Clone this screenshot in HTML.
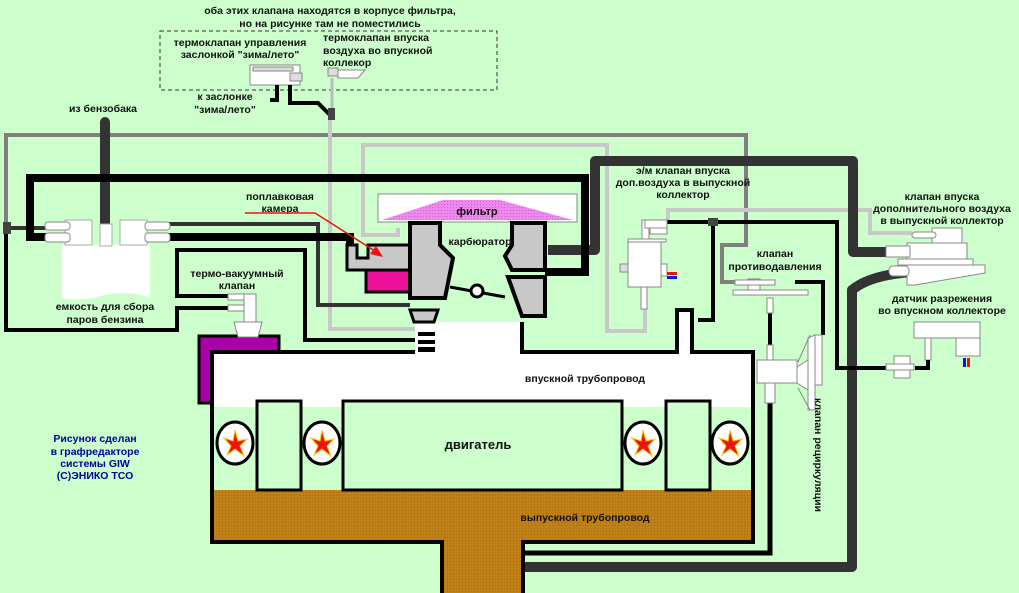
<!DOCTYPE html>
<html><head><meta charset="utf-8"><style>
html,body{margin:0;padding:0;background:#ccffcc;}
svg{display:block}
text{font-family:"Liberation Sans",sans-serif;font-weight:bold;font-size:10.5px;fill:#111;text-anchor:middle}
</style></head><body>
<svg width="1019" height="593" viewBox="0 0 1019 593" xmlns="http://www.w3.org/2000/svg">
<defs>
<pattern id="br" width="3" height="3" patternUnits="userSpaceOnUse"><rect width="3" height="3" fill="#c08018"/><rect width="1" height="1" fill="#a86a10"/></pattern>
<pattern id="pk" width="3" height="3" patternUnits="userSpaceOnUse"><rect width="3" height="3" fill="#ee88ee"/><rect width="1" height="1" fill="#cc66cc"/></pattern>
</defs>
<rect width="1019" height="593" fill="#ccffcc"/>

<!-- top note -->
<text x="330" y="14">оба этих клапана находятся в корпусе фильтра,</text>
<text x="330" y="27">но на рисунке там не поместились</text>
<rect x="160" y="31" width="337" height="59" fill="none" stroke="#333" stroke-dasharray="4,3"/>
<text x="240" y="46">термоклапан управления</text>
<text x="240" y="58">заслонкой "зима/лето"</text>
<text x="323" y="41" style="text-anchor:start">термоклапан впуска</text>
<text x="323" y="54" style="text-anchor:start">воздуха во впускной</text>
<text x="323" y="66" style="text-anchor:start">коллекор</text>
<rect x="250" y="65" width="50" height="20" fill="#fff" stroke="#888"/>
<rect x="253" y="67" width="40" height="4" fill="#ddd" stroke="#888"/>
<rect x="290" y="73" width="12" height="8" fill="#ddd" stroke="#888"/>
<rect x="328" y="68" width="10" height="8" fill="#ddd" stroke="#888"/>
<polygon points="338,70 365,70 358,78 338,78" fill="#fff" stroke="#888"/>
<path d="M277 85 V100 H270" stroke="#000" stroke-width="4" fill="none"/>
<path d="M290 85 V103 H318 L330 115 V125" stroke="#000" stroke-width="4" fill="none"/>
<line x1="332" y1="78" x2="332" y2="110" stroke="#bbb" stroke-width="3"/>
<rect x="328" y="108" width="7" height="12" fill="#444"/>
<text x="225" y="100">к заслонке</text>
<text x="225" y="113">"зима/лето"</text>
<text x="103" y="112">из бензобака</text>

<!-- medium gray line -->
<path d="M6 330 V135 H746 V245 H722 V282 H735" stroke="#808080" stroke-width="4" fill="none"/>
<!-- light gray lines -->
<path d="M330 120 V329 H418" stroke="#c8c8c8" stroke-width="4" fill="none"/>
<path d="M398 228 V235 H363 V145 H607 V331 H645 V300" stroke="#c8c8c8" stroke-width="4" fill="none"/>
<path d="M668 222 H668 V210 H870 V233 H912" stroke="#c8c8c8" stroke-width="4" fill="none"/>

<!-- dark gray thick lines -->
<path d="M105 122 V226" stroke="#333" stroke-width="10" stroke-linecap="round" fill="none"/>
<path d="M548 250 H595 V161 H853 V252 H912" stroke="#333" stroke-width="10" fill="none" stroke-linejoin="round"/>
<path d="M912 272 Q870 275 852 290 V567 H523" stroke="#333" stroke-width="10" fill="none" stroke-linejoin="round"/>
<path d="M8 228 H45" stroke="#333" stroke-width="4"/>
<path d="M168 224 H318 V305 H410" stroke="#333" stroke-width="4" fill="none"/>

<!-- black thick lines -->
<path d="M48 237 H30 V178 H585 V272 H545" stroke="#000" stroke-width="8" fill="none"/>
<path d="M165 237 H350 V245" stroke="#000" stroke-width="8" fill="none"/>
<!-- black thin lines -->
<path d="M6 228 V330 H177 V308 H232" stroke="#000" stroke-width="4" fill="none"/>
<path d="M232 296 H177 V250 H305 V340 H415" stroke="#000" stroke-width="4" fill="none"/>
<path d="M665 222 H837 V368 H890" stroke="#000" stroke-width="4" fill="none"/>
<path d="M713 222 V320 H698" stroke="#000" stroke-width="4" fill="none"/>
<path d="M795 282 H823 V335" stroke="#000" stroke-width="4" fill="none"/>
<path d="M770 300 V350" stroke="#000" stroke-width="4"/>
<path d="M523 553 H770 V400" stroke="#000" stroke-width="5" fill="none"/>
<rect x="3" y="222" width="8" height="12" fill="#444"/>
<rect x="708" y="218" width="10" height="8" fill="#444"/>

<!-- tank -->
<path d="M62 245 H150 V298 Q130 290 105 295 Q80 302 62 298 Z" fill="#fff"/>
<rect x="65" y="220" width="27" height="25" fill="#fff" stroke="#aaa"/>
<rect x="120" y="220" width="27" height="25" fill="#fff" stroke="#aaa"/>
<rect x="100" y="224" width="12" height="22" fill="#fff" stroke="#aaa"/>
<rect x="45" y="222" width="25" height="8" rx="3" fill="#fff" stroke="#888"/>
<rect x="45" y="233" width="25" height="9" rx="3" fill="#fff" stroke="#888"/>
<rect x="145" y="222" width="25" height="8" rx="3" fill="#fff" stroke="#888"/>
<rect x="145" y="233" width="25" height="9" rx="3" fill="#fff" stroke="#888"/>
<text x="105" y="310">емкость для сбора</text>
<text x="105" y="323">паров бензина</text>

<!-- thermo-vacuum valve -->
<text x="237" y="277">термо-вакуумный</text>
<text x="237" y="289">клапан</text>
<rect x="228" y="294" width="28" height="6" fill="#fff" stroke="#888"/>
<rect x="228" y="305" width="22" height="6" fill="#fff" stroke="#888"/>
<rect x="244" y="294" width="12" height="30" fill="#fff" stroke="#888"/>

<!-- engine block -->
<rect x="199" y="336" width="80" height="67" fill="#aa00aa" stroke="#000" stroke-width="3"/>
<polygon points="234,322 262,322 258,337 238,337" fill="#fff" stroke="#888"/>
<polygon points="212,352 415,352 415,322 522,322 522,352 677,352 677,310 692,310 692,352 753,352 753,542 523,542 523,593 442,593 442,542 212,542" fill="#fff"/>
<rect x="214" y="407" width="537" height="83" fill="#ccffcc"/>
<polygon points="214,490 751,490 751,540 521,540 521,593 444,593 444,540 214,540" fill="url(#br)"/>
<polyline points="415,352 212,352 212,542 442,542 442,593" fill="none" stroke="#000" stroke-width="4"/>
<polyline points="523,593 523,542 753,542 753,352 692,352 692,310 677,310 677,352 522,352 522,322" fill="none" stroke="#000" stroke-width="4"/>
<rect x="257" y="401" width="44" height="89" fill="#ccffcc" stroke="#000" stroke-width="3"/>
<rect x="343" y="401" width="279" height="89" fill="#ccffcc" stroke="#000" stroke-width="3"/>
<rect x="666" y="401" width="44" height="89" fill="#ccffcc" stroke="#000" stroke-width="3"/>
<g stroke="#000" stroke-width="3" fill="#fff">
<ellipse cx="235" cy="443" rx="18" ry="21"/><ellipse cx="322" cy="443" rx="18" ry="21"/>
<ellipse cx="643" cy="443" rx="18" ry="21"/><ellipse cx="730" cy="443" rx="18" ry="21"/>
</g>
<g fill="#ee1111" stroke="#ffcc00" stroke-width="1">
<polygon points="235,430 238,441 247,439 240,446 244,456 235,449 227,455 231,446 224,438 233,441"/>
<polygon points="322,430 325,441 334,439 327,446 331,456 322,449 314,455 318,446 311,438 320,441"/>
<polygon points="643,430 646,441 655,439 648,446 652,456 643,449 635,455 639,446 632,438 641,441"/>
<polygon points="730,430 733,441 742,439 735,446 739,456 730,449 722,455 726,446 719,438 728,441"/>
</g>
<text x="478" y="449" style="font-size:13px">двигатель</text>
<text x="585" y="382">впускной трубопровод</text>
<text x="585" y="521">выпускной трубопровод</text>

<!-- carburetor -->
<rect x="378" y="194" width="199" height="28" fill="#fff" stroke="#888"/>
<polygon points="382,220 443,200 500,200 573,220" fill="url(#pk)"/>
<text x="477" y="215" style="font-size:11px">фильтр</text>
<polygon points="347,245 357,245 357,258 368,258 368,245 410,245 410,270 347,270" fill="#c8c8c8" stroke="#000" stroke-width="3"/>
<rect x="366" y="270" width="44" height="22" fill="#ee1199" stroke="#000" stroke-width="3"/>
<polygon points="410,223 440,223 440,245 453,258 445,298 410,298" fill="#c8c8c8" stroke="#000" stroke-width="4"/>
<polygon points="512,223 545,223 545,270 512,270 505,256 512,245" fill="#c8c8c8" stroke="#000" stroke-width="4"/>
<polygon points="508,277 545,277 545,316 522,316" fill="#c8c8c8" stroke="#000" stroke-width="4"/>
<polygon points="410,310 438,310 434,322 414,322" fill="#c8c8c8" stroke="#000" stroke-width="3"/>
<rect x="418" y="332" width="17" height="4" fill="#000"/>
<rect x="418" y="340" width="17" height="4" fill="#000"/>
<rect x="418" y="347" width="17" height="5" fill="#000"/>
<line x1="450" y1="287" x2="505" y2="297" stroke="#000" stroke-width="3"/>
<circle cx="477" cy="291" r="6" fill="#fff" stroke="#000" stroke-width="3"/>
<text x="480" y="245">карбюратор</text>
<text x="280" y="200">поплавковая</text>
<text x="280" y="212">камера</text>
<path d="M245 213 H315 L378 253" stroke="#ee1111" stroke-width="1.5" fill="none"/>
<polygon points="383,257 370,254 376,246" fill="#ee1111"/>

<!-- e/m valve -->
<text x="683" y="174">э/м клапан впуска</text>
<text x="683" y="186">доп.воздуха в выпускной</text>
<text x="683" y="198">коллектор</text>
<rect x="642" y="220" width="7" height="22" fill="#fff" stroke="#888"/>
<rect x="645" y="220" width="22" height="8" fill="#fff" stroke="#888"/>
<rect x="650" y="228" width="17" height="6" fill="#fff" stroke="#888"/>
<rect x="628" y="239" width="38" height="3" fill="#fff" stroke="#888"/>
<rect x="628" y="242" width="33" height="45" fill="#fff" stroke="#888"/>
<rect x="620" y="264" width="8" height="8" fill="#ddd" stroke="#888"/>
<rect x="661" y="264" width="6" height="12" fill="#fff" stroke="#888"/>
<rect x="667" y="272" width="10" height="3" fill="#ee1111"/><rect x="667" y="276" width="10" height="3" fill="#1111ee"/>
<rect x="641" y="287" width="6" height="22" fill="#fff" stroke="#888"/>

<!-- back pressure valve -->
<text x="775" y="257">клапан</text>
<text x="775" y="270">противодавления</text>
<rect x="748" y="279" width="12" height="12" fill="#fff" stroke="#888"/>
<rect x="735" y="280" width="40" height="5" fill="#fff" stroke="#888"/>
<rect x="733" y="290" width="75" height="5" fill="#fff" stroke="#888"/>
<rect x="767" y="298" width="6" height="15" fill="#fff" stroke="#888"/>
<rect x="767" y="345" width="6" height="20" fill="#fff" stroke="#888"/>

<!-- recirculation valve -->
<rect x="757" y="360" width="40" height="23" fill="#fff" stroke="#888"/>
<rect x="765" y="383" width="10" height="20" fill="#fff" stroke="#888"/>
<polygon points="797,367 808,360 808,390 797,383" fill="#fff" stroke="#888"/>
<polygon points="808,345 808,410 815,410 815,335 808,338" fill="#fff" stroke="#888"/>
<rect x="815" y="335" width="7" height="50" fill="#fff" stroke="#888"/>
<line x1="798" y1="362" x2="810" y2="335" stroke="#888"/><line x1="798" y1="388" x2="810" y2="410" stroke="#888"/>
<text x="0" y="0" transform="translate(815,455) rotate(90)">клапан рециркуляции</text>

<!-- extra-air valve -->
<text x="942" y="200">клапан впуска</text>
<text x="942" y="212">дополнительного воздуха</text>
<text x="942" y="224">в выпускной коллектор</text>
<rect x="932" y="228" width="30" height="16" fill="#fff" stroke="#888"/>
<rect x="912" y="232" width="24" height="6" rx="3" fill="#fff" stroke="#888"/>
<rect x="907" y="243" width="60" height="16" fill="#fff" stroke="#888"/>
<rect x="886" y="246" width="24" height="11" fill="#fff" stroke="#888"/>
<rect x="898" y="259" width="75" height="6" fill="#fff" stroke="#888"/>
<polygon points="907,265 985,265 985,273 915,285 907,285" fill="#fff" stroke="#888"/>
<rect x="889" y="266" width="20" height="10" rx="4" fill="#fff" stroke="#888"/>
<text x="942" y="302">датчик разрежения</text>
<text x="942" y="314">во впускном коллекторе</text>
<rect x="914" y="322" width="66" height="16" fill="#fff" stroke="#888"/>
<rect x="956" y="338" width="24" height="18" fill="#fff" stroke="#888"/>
<rect x="925" y="338" width="6" height="22" fill="#fff" stroke="#888"/>
<path d="M928 360 V368 H915" stroke="#000" stroke-width="4" fill="none"/>
<rect x="894" y="356" width="16" height="22" fill="#fff" stroke="#888"/>
<rect x="886" y="364" width="28" height="6" fill="#fff" stroke="#888"/>
<rect x="963" y="358" width="3" height="9" fill="#1111ee"/><rect x="967" y="358" width="3" height="9" fill="#ee1111"/>

<!-- credits -->
<text x="95" y="442" style="fill:#000099">Рисунок сделан</text>
<text x="95" y="455" style="fill:#000099">в графредакторе</text>
<text x="95" y="467" style="fill:#000099">системы GIW</text>
<text x="95" y="479" style="fill:#000099">(C)ЭНИКО ТСО</text>
</svg>
</body></html>
